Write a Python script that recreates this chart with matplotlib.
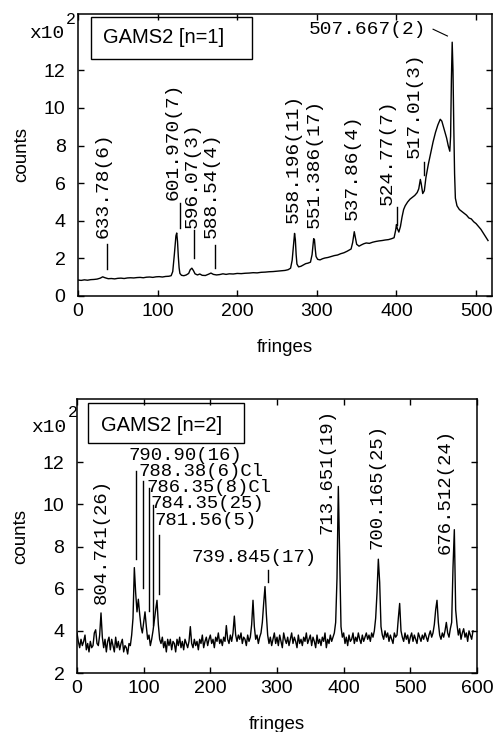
import matplotlib
matplotlib.use('Agg')
import matplotlib.pyplot as plt
from matplotlib.patches import Rectangle

SANS = ['Liberation Sans', 'DejaVu Sans']
MONO = ['Liberation Mono', 'DejaVu Sans Mono']

# ---- GAMS2 [n=1] spectrum ----
fringes_n1 = [
    0, 4, 8, 12, 16, 20, 24, 28, 31, 34, 38, 42, 46, 50, 54, 58, 62, 66, 70, 74,
    78, 82, 86, 90, 94, 98, 102, 106, 110, 114, 117, 119, 121, 123, 124, 125, 126, 127, 128, 130,
    133, 136, 139, 141, 143, 145, 147, 150, 153, 156, 160, 164, 167, 170, 174, 178, 182, 186, 190, 195,
    200, 205, 210, 215, 220, 225, 230, 235, 240, 245, 250, 255, 260, 264, 267, 269, 271, 272, 273, 274,
    275, 277, 280, 283, 286, 289, 292, 294, 296, 297, 298, 299, 301, 304, 307, 310, 314, 318, 322, 326,
    330, 334, 338, 341, 343, 345, 347, 348, 350, 353, 356, 359, 362, 366, 370, 374, 378, 382, 386, 390,
    394, 397, 399, 400, 401, 403, 405, 407, 409, 411, 414, 417, 420, 423, 426, 428, 430, 431, 433, 435,
    437, 440, 443, 446, 449, 452, 455, 457, 459, 461, 463, 465, 467, 468, 469, 470, 471, 472, 473, 474,
    476, 479, 482, 485, 488, 491, 494, 497, 500, 503, 506, 509, 512, 515,
]
counts_n1 = [
    0.85, 0.83, 0.86, 0.84, 0.87, 0.88, 0.90, 0.95, 1.02, 0.97, 0.92, 0.93, 0.91, 0.94, 0.95, 0.93, 0.96, 0.97, 0.96, 0.98,
    0.99, 0.97, 1.00, 1.01, 0.99, 1.02, 1.03, 1.01, 1.04, 1.05, 1.08, 1.30, 2.20, 3.20, 3.35, 2.90, 2.10, 1.50, 1.20, 1.10,
    1.08, 1.12, 1.20, 1.40, 1.48, 1.35, 1.18, 1.12, 1.17, 1.10, 1.09, 1.16, 1.22, 1.15, 1.12, 1.14, 1.18, 1.15, 1.18, 1.17,
    1.20, 1.19, 1.21, 1.22, 1.24, 1.23, 1.26, 1.27, 1.29, 1.30, 1.32, 1.34, 1.36, 1.40, 1.48, 1.90, 2.90, 3.33, 3.00, 2.20,
    1.70, 1.55, 1.58, 1.65, 1.72, 1.75, 1.80, 2.20, 3.05, 3.00, 2.50, 2.10, 1.95, 1.92, 1.98, 2.02, 2.05, 2.10, 2.15, 2.18,
    2.25, 2.30, 2.38, 2.45, 2.50, 2.85, 3.42, 3.20, 2.75, 2.65, 2.72, 2.78, 2.82, 2.80, 2.86, 2.90, 2.93, 2.95, 2.98, 3.00,
    3.05, 3.10, 3.50, 3.80, 3.60, 3.40, 3.70, 4.20, 4.60, 4.80, 5.00, 5.15, 5.25, 5.35, 5.50, 5.70, 6.20, 6.00, 5.45, 5.60,
    6.30, 7.00, 7.60, 8.20, 8.70, 9.10, 9.40, 9.30, 9.00, 8.70, 8.40, 8.00, 7.70, 8.50, 11.50, 13.50, 12.00, 9.00, 6.50, 5.20,
    4.80, 4.60, 4.50, 4.40, 4.30, 4.15, 4.10, 3.95, 3.85, 3.70, 3.55, 3.35, 3.15, 2.95,
]

# ---- GAMS2 [n=2] spectrum (every second fringe) ----
fringes_n2 = list(range(0, 595, 2))
counts_n2 = [
    3.9, 3.5, 3.2, 3.6, 3.3, 3.5, 3.8, 3.1, 3.4, 3.0,
    3.5, 3.2, 3.3, 3.9, 4.05, 3.4, 3.3, 3.8, 4.85, 3.7,
    3.2, 3.6, 3.0, 3.5, 3.7, 3.1, 3.6, 3.3, 3.0, 3.7,
    3.2, 3.5, 3.1, 3.4, 3.6, 3.0, 3.3, 3.2, 2.9, 3.4,
    3.3, 3.8, 4.6, 7.0, 5.8, 4.9, 5.5, 4.8, 4.2, 3.9,
    4.4, 4.9, 4.2, 3.6, 3.8, 3.3, 3.6, 4.0, 4.5, 5.0,
    5.45, 4.3, 3.6, 3.4, 3.7, 3.2, 3.5, 3.0, 3.6, 3.3,
    3.6, 3.1, 3.5, 3.4, 3.0, 3.6, 3.3, 3.7, 3.2, 3.5,
    3.1, 3.6, 3.4, 3.2, 3.5, 4.2, 3.4, 3.2, 3.6, 3.3,
    3.5, 3.1, 3.6, 3.4, 3.8, 3.2, 3.5, 3.7, 3.3, 3.6,
    3.8, 3.4, 3.6, 3.2, 3.7, 3.5, 3.9, 3.4, 3.6, 3.3,
    3.7, 3.5, 4.25, 3.6, 3.4, 3.8, 3.5, 3.9, 4.7, 3.8,
    3.5, 3.8, 3.6, 3.9, 3.4, 3.7, 3.6, 3.3, 3.8, 3.5,
    3.7, 4.3, 5.45, 4.2, 3.6, 3.8, 3.4, 3.7, 3.9, 4.4,
    5.3, 6.1, 4.8, 3.8, 3.4, 3.7, 3.3, 3.6, 3.9, 3.4,
    3.7, 3.3, 3.8, 3.5, 3.2, 3.9, 3.6, 3.4, 3.7, 3.3,
    3.6, 3.9, 3.4, 3.7, 3.5, 3.2, 3.8, 3.4, 3.6, 3.3,
    3.7, 3.5, 3.9, 3.4, 3.6, 3.8, 3.3, 3.7, 3.5, 3.2,
    3.8, 3.4, 3.6, 3.3, 3.7, 3.5, 3.9, 3.2, 3.6, 3.4,
    3.8, 3.5, 3.7, 3.9, 4.4, 6.5, 10.85, 7.5, 4.2, 3.7,
    3.9, 3.4, 3.7, 3.3, 3.8, 3.5, 3.6, 3.9, 3.4, 3.7,
    3.5, 3.9, 3.6, 3.4, 3.8, 3.5, 3.7, 3.9, 3.6, 3.8,
    3.5, 3.9, 3.7, 4.0, 4.6, 5.8, 7.4, 6.3, 4.2, 3.8,
    3.6, 4.0, 3.7, 3.9, 3.5, 3.8, 3.6, 3.4, 3.9, 3.7,
    3.8, 4.6, 5.3, 4.0, 3.7, 3.5, 3.9, 3.6, 3.8, 3.4,
    3.7, 3.9, 3.5, 3.8, 3.6, 3.4, 3.9, 3.7, 3.5, 3.8,
    3.6, 3.9, 3.7, 3.5, 3.8, 4.0, 3.7, 3.9, 4.3, 5.0,
    5.45, 4.4, 3.8, 3.6, 3.9, 3.7, 4.0, 4.4, 3.9, 3.7,
    4.1, 4.4, 7.0, 8.8, 5.0, 4.3, 3.8, 4.1, 3.6, 3.9,
    4.1, 3.7, 3.9, 3.5, 4.0, 3.8, 3.6, 4.0,
]

# vertical line labels: (text, x centre, y bottom)
labels_n1 = [
    ('633.78(6)', 31, 3.1), ('601.970(7)', 119.5, 5.1), ('596.07(3)', 144, 3.6),
    ('588.54(4)', 167.5, 3.08), ('558.196(11)', 270, 3.88), ('551.386(17)', 297, 3.6),
    ('537.86(4)', 345, 4.04), ('524.77(7)', 388.6, 4.84), ('517.01(3)', 422, 7.32),
]
ticks_n1 = [(36, 1.44, 2.77), (128, 3.6, 4.95), (146, 2.0, 3.5), (171.7, 1.5, 2.7),
            (401, 3.8, 4.75), (435, 6.44, 7.14)]

labels_n2_vert = [('804.741(26)', 36, 5.25), ('713.651(19)', 375.7, 8.6),
                  ('700.165(25)', 450.7, 7.89), ('676.512(24)', 552, 7.65)]
# horizontal labels: (text, x left, y centre)
labels_n2_horz = [('790.90(16)', 77, 12.32), ('788.38(6)Cl', 92, 11.58),
                  ('786.35(8)Cl', 104.5, 10.78), ('784.35(25)', 110.5, 10.04),
                  ('781.56(5)', 115.5, 9.22), ('739.845(17)', 172, 7.49)]
ticks_n2 = [(88.5, 7.4, 11.58), (99.5, 6.04, 11.1), (108, 4.92, 10.76),
            (113.5, 4.3, 9.96), (123.5, 5.73, 8.55), (287, 6.32, 6.9)]

W, H = 493, 732
fig = plt.figure(figsize=(W / 100, H / 100), dpi=100)
ax1 = fig.add_axes([78 / W, 1 - 296 / H, 414 / W, 282 / H])
ax2 = fig.add_axes([77 / W, 1 - 673 / H, 400 / W, 274 / H])


def style_axes(ax, xlim, ylim, xticks, yticks, title):
    ax.set_xlim(*xlim)
    ax.set_ylim(*ylim)
    ax.set_xticks(xticks)
    ax.set_yticks(yticks)
    ax.tick_params(direction='in', top=True, right=True, length=4, width=1.0)
    ax.tick_params(axis='x', pad=5)
    ax.tick_params(axis='y', pad=9)
    for lab in ax.get_xticklabels() + ax.get_yticklabels():
        lab.set_family(SANS)
        lab.set_fontsize(14)
    for sp in ax.spines.values():
        sp.set_linewidth(1.1)
    ax.set_xlabel('fringes', family=SANS, fontsize=13.5, labelpad=14)
    ax.set_ylabel('counts', family=SANS, fontsize=13.5, labelpad=10)
    ax.text(0.06, title[1], title[0], transform=ax.transAxes, family=SANS,
            fontsize=14.5, va='center', ha='left')
    ax.add_patch(Rectangle((title[2], title[3]), title[4], title[5], transform=ax.transAxes,
                           fill=False, lw=1.0, ec='black'))


ax1.plot(fringes_n1, counts_n1, color='black', lw=1.0)
style_axes(ax1, (0, 520), (0, 15), range(0, 501, 100), range(0, 13, 2),
           ('GAMS2 [n=1]', 0.915, 0.031, 0.84, 0.389, 0.15))
for txt, x, y in labels_n1:
    ax1.text(x, y, txt, rotation=90, ha='center', va='bottom', family=MONO, fontsize=14)
for x, y0, y1 in ticks_n1:
    ax1.plot([x, x], [y0, y1], color='black', lw=1.0)
ax1.text(437, 14.15, '507.667(2)', ha='right', va='center', family=MONO, fontsize=14)
ax1.plot([446, 464], [14.19, 13.83], color='black', lw=0.8)

ax2.plot(fringes_n2, counts_n2, color='black', lw=1.0)
style_axes(ax2, (0, 600), (2, 15), range(0, 601, 100), range(2, 13, 2),
           ('GAMS2 [n=2]', 0.905, 0.028, 0.838, 0.39, 0.146))
for txt, x, y in labels_n2_vert:
    ax2.text(x, y, txt, rotation=90, ha='center', va='bottom', family=MONO, fontsize=13.7)
for txt, x, y in labels_n2_horz:
    ax2.text(x, y, txt, ha='left', va='center', family=MONO, fontsize=13.7)
for x, y0, y1 in ticks_n2:
    ax2.plot([x, x], [y0, y1], color='black', lw=1.0)

# exponent markers
for base_y, sup_y, right_x in [(38.5, 24, 64), (431.7, 416.7, 66)]:
    fig.text(right_x / W, 1 - base_y / H, 'x10', ha='right', va='baseline',
             family=MONO, fontsize=14)
    fig.text((right_x + 2) / W, 1 - sup_y / H, '2', ha='left', va='baseline',
             family=MONO, fontsize=12)

fig.savefig('out.png', dpi=100)
